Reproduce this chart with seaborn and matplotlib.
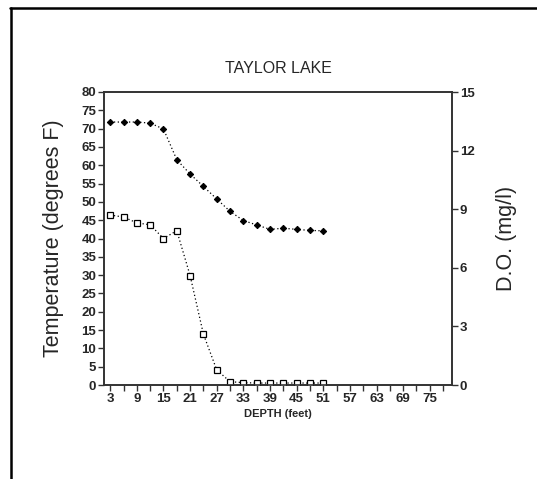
import matplotlib
matplotlib.use("Agg")
import matplotlib.pyplot as plt
from matplotlib.lines import Line2D
import seaborn as sns
import pandas as pd
import numpy as np

depth = [3, 6, 9, 12, 15, 18, 21, 24, 27, 30, 33, 36, 39, 42, 45, 48, 51]
temperature = [71.8, 71.8, 71.8, 71.5, 69.9, 61.5, 57.6, 54.2, 50.8, 47.4,
               44.9, 43.7, 42.5, 42.8, 42.5, 42.2, 42.1]
dissolved_oxygen = [8.7, 8.6, 8.3, 8.2, 7.5, 7.9, 5.6, 2.6, 0.77, 0.17,
                    0.12, 0.1, 0.1, 0.1, 0.1, 0.1, 0.1]

x_tick_values = list(range(3, 79, 3))
x_tick_labels = [str(v) if (v - 3) % 6 == 0 else "" for v in x_tick_values]
temp_ticks = list(range(0, 81, 5))
do_ticks = list(range(0, 16, 3))

sns.set_style("ticks")
plt.rcParams["font.family"] = ["Liberation Sans", "DejaVu Sans"]

df = pd.DataFrame({"depth": depth, "temp": temperature, "do": dissolved_oxygen})

fig = plt.figure(figsize=(5.37, 4.79), dpi=100)
ax = fig.add_axes([104 / 537, 1 - 385 / 479, (452 - 104) / 537, (385 - 92) / 479])
ax2 = ax.twinx()

sns.lineplot(data=df, x="depth", y="temp", ax=ax, color="black", lw=0.9,
             linestyle=(0, (1, 2)), marker="D", markersize=3.2,
             markerfacecolor="black", markeredgecolor="black")
sns.lineplot(data=df, x="depth", y="do", ax=ax2, color="black", lw=0.9,
             linestyle=(0, (1, 2)), marker="s", markersize=4.5,
             markerfacecolor="white", markeredgecolor="black", markeredgewidth=0.9)

ax.set_xlim(1.6, 80)
ax.set_ylim(0, 80)
ax2.set_ylim(0, 15)
ax.set_xticks(x_tick_values)
ax.set_xticklabels(x_tick_labels)
ax.set_yticks(temp_ticks)
ax2.set_yticks(do_ticks)

for a in (ax, ax2):
    for s in a.spines.values():
        s.set_visible(True)
        s.set_linewidth(1.2)
        s.set_color("#333333")
    a.tick_params(length=4, width=1, color="#333333", labelsize=9.5, pad=1.5)
    for lab in a.get_xticklabels() + a.get_yticklabels():
        lab.set_fontweight("bold")

ax.set_xlabel("DEPTH (feet)", fontsize=8, fontweight="bold", labelpad=3)
ax.set_ylabel("Temperature (degrees F)", fontsize=15.5)
ax.yaxis.set_label_coords(-0.115, 0.50)
ax2.set_ylabel("D.O. (mg/l)", fontsize=15.5)
ax2.yaxis.set_label_coords(1.127, 0.50)
ax.set_title("TAYLOR LAKE", fontsize=11.5, pad=14)

# scanned page frame (top and left edges)
fig.add_artist(Line2D([10 / 537, 1], [1 - 8 / 479, 1 - 8 / 479], color="black", lw=1.8,
                      transform=fig.transFigure))
fig.add_artist(Line2D([11 / 537, 11 / 537], [0, 1 - 8 / 479], color="black", lw=1.8,
                      transform=fig.transFigure))

fig.savefig("out.png", dpi=100)
